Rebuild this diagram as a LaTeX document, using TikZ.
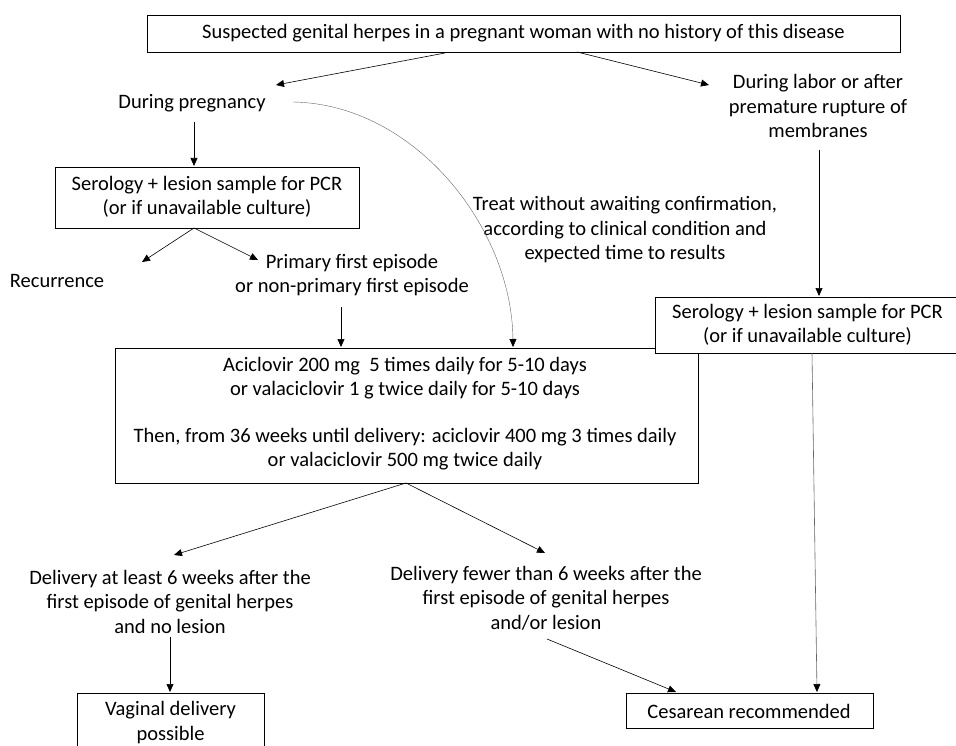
\documentclass[tikz,border=0pt]{standalone}
\usepackage{fontspec}
\setmainfont{Carlito}
\usetikzlibrary{arrows.meta}
\begin{document}
\begin{tikzpicture}[x=1pt,y=-1pt,
  every node/.style={font=\fontsize{20.5}{24.5}\selectfont, align=center, inner sep=0pt},
  box/.style={draw, line width=0.9pt, fill=white},
  arr/.style={-{Triangle[length=8pt,width=7pt]}, line width=0.6pt},
  garr/.style={-{Triangle[length=8pt,width=7pt,color=black]}, draw=black!60}]
\useasboundingbox (0,0) rectangle (956,746);
\clip (0,0) rectangle (956,746);
\fill[white] (0,0) rectangle (956,746);

% nodes
\node[box, minimum width=753pt, minimum height=37pt] (top) at (523.5,33.5)
  {Suspected genital herpes in a pregnant woman with no history of this disease};
\node (preg) at (192,103) {During pregnancy};
\node (labor) at (818,106) {During labor or after\\premature rupture of\\membranes};
\node[box, minimum width=304pt, minimum height=61pt] (ser1) at (207,197.5) {};
\node (ser1t) at (207,197) {Serology + lesion sample for PCR\\(or if unavailable culture)};
\node (rec) at (57,281) {Recurrence};
\node (prim) at (352,275) {Primary first episode\\or non-primary first episode};
\node (treat) at (625,230) {Treat without awaiting confirmation,\\according to clinical condition and\\expected time to results};
\node[box, minimum width=583pt, minimum height=135pt] (acic) at (406.5,415.5) {};
\node (acict) at (405,413.5) {Aciclovir 200 mg\ \ 5 times daily for 5-10 days\\or valaciclovir 1 g twice daily for 5-10 days\\[22pt]Then, from 36 weeks until delivery: aciclovir 400 mg 3 times daily\\or valaciclovir 500 mg twice daily};
\node[box, minimum width=305pt, minimum height=56pt] (ser2) at (807.5,325)
  {Serology + lesion sample for PCR\\(or if unavailable culture)};
\node (d1) at (170,601.5) {Delivery at least 6 weeks after the\\first episode of genital herpes\\and no lesion};
\node (d2) at (546,598) {Delivery fewer than 6 weeks after the\\first episode of genital herpes\\and/or lesion};
\node[box, minimum width=187pt, minimum height=80pt, anchor=north] (vag) at (170.5,693) {};
\node (vagt) at (170.5,722.5) {Vaginal delivery\\possible};
\node[box, minimum width=247pt, minimum height=35pt] (ces) at (749.5,710.5) {};
\node (cest) at (749,711) {Cesarean recommended};

% connector end points
\coordinate (t1) at (445,53);   \coordinate (p1) at (276,85);
\coordinate (t2) at (577,52);   \coordinate (l1) at (709,85);
\coordinate (pb) at (194,122);  \coordinate (s1t) at (194,166);
\coordinate (s1a) at (194,228); \coordinate (r1) at (142,262);
\coordinate (p2) at (258,260);
\coordinate (pc) at (293,102);  \coordinate (ac1) at (513,347);
\coordinate (pr1) at (341,307); \coordinate (ac2) at (341,347);
\coordinate (lb) at (819,150);  \coordinate (s2t) at (819,296);
\coordinate (ab) at (406,483);  \coordinate (d1t) at (174,555);
\coordinate (d2t) at (545,553);
\coordinate (d1b) at (170,637); \coordinate (vt) at (170,692);
\coordinate (d2b) at (547,639); \coordinate (ct1) at (676,692);
\coordinate (s2b) at (812,353); \coordinate (ct2) at (817,692);

% connectors
\draw[arr] (t1) -- (p1);
\draw[arr] (t2) -- (l1);
\draw[arr] (pb) -- (s1t);
\draw[arr] (s1a) -- (r1);
\draw[arr] (s1a) -- (p2);
\draw[arr] (pr1) -- (ac2);
\draw[garr, line width=0.4pt] (pc) .. controls (415,104) and (512,228) .. (ac1);
\draw[arr] (lb) -- (s2t);
\draw[arr] (ab) -- (d1t);
\draw[arr] (ab) -- (d2t);
\draw[arr] (d1b) -- (vt);
\draw[arr] (d2b) -- (ct1);
\draw[garr, line width=0.6pt] (s2b) -- (ct2);
\end{tikzpicture}
\end{document}
